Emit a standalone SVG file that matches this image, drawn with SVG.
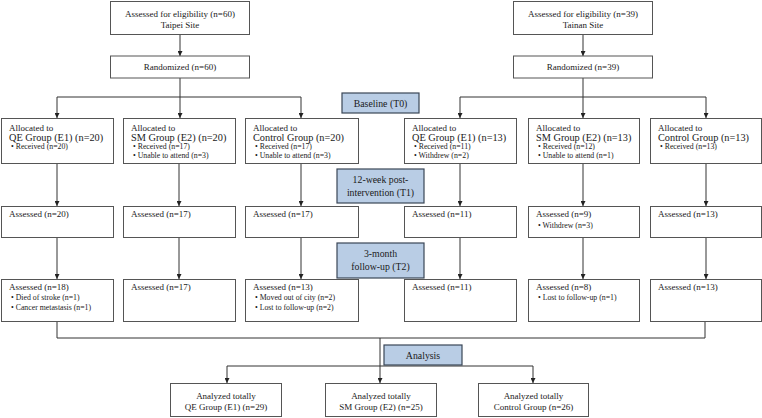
<svg xmlns="http://www.w3.org/2000/svg" width="762" height="418" viewBox="0 0 762 418" font-family="'Liberation Serif', 'Times New Roman', serif">
<defs>
<marker id="ah" viewBox="0 0 10 10" refX="10" refY="5" markerWidth="5" markerHeight="5" orient="auto" markerUnits="userSpaceOnUse">
<path d="M0,0 L10,5 L0,10 z" fill="#222"/>
</marker>
<style>
.b{fill:#fff;stroke:#555;stroke-width:1}
.l{fill:#b9cde5;stroke:#3a4656;stroke-width:1.2}
.c{fill:none;stroke:#333;stroke-width:1}
.a{fill:none;stroke:#333;stroke-width:1;marker-end:url(#ah)}
text{font-family:"Liberation Serif","Times New Roman",serif;fill:#1a1a1a;font-size:9px}
.s{font-size:7.8px}
.g{font-size:10.3px}
.m{text-anchor:middle}
.t{font-size:9.8px;text-anchor:middle}
</style>
</defs>
<g id="connectors">
<path class="a" d="M180 34 V56"/>
<path class="a" d="M180 78 V118"/>
<path class="c" d="M57 97 H301"/>
<path class="a" d="M57 97 V118"/>
<path class="a" d="M301 97 V118"/>
<path class="a" d="M583 34 V56"/>
<path class="a" d="M583 78 V118"/>
<path class="c" d="M460 97 H706"/>
<path class="a" d="M460 97 V118"/>
<path class="a" d="M706 97 V118"/>
<path class="a" d="M57 163 V206"/>
<path class="a" d="M179 163 V206"/>
<path class="a" d="M301 163 V206"/>
<path class="a" d="M460 163 V206"/>
<path class="a" d="M583 163 V206"/>
<path class="a" d="M706 163 V206"/>
<path class="a" d="M57 237 V279"/>
<path class="a" d="M179 237 V279"/>
<path class="a" d="M301 237 V279"/>
<path class="a" d="M460 237 V279"/>
<path class="a" d="M583 237 V279"/>
<path class="a" d="M706 237 V279"/>
<path class="c" d="M57 322 V338 H705 V322"/>
<path class="a" d="M380 338 V383"/>
<path class="c" d="M227 366 H533"/>
<path class="a" d="M227 366 V383"/>
<path class="a" d="M533 366 V383"/>
</g>
<g id="taipei"><rect class="b" x="110.5" y="1.5" width="139" height="33"/><text class="m" x="180" y="17">Assessed for eligibility (n=60)</text><text class="m" x="180" y="28">Taipei Site</text></g>
<g id="tainan"><rect class="b" x="513.5" y="1.5" width="139" height="33"/><text class="m" x="583" y="17">Assessed for eligibility (n=39)</text><text class="m" x="583" y="28">Tainan Site</text></g>
<g id="rand1"><rect class="b" x="110.5" y="56" width="139" height="22"/><text class="m" x="180" y="70">Randomized (n=60)</text></g>
<g id="rand2"><rect class="b" x="513.5" y="56" width="139" height="22"/><text class="m" x="583" y="70">Randomized (n=39)</text></g>
<g id="baseline"><rect class="l" x="342" y="93" width="77" height="20"/><text class="t" x="380.5" y="106.5">Baseline (T0)</text></g>
<g id="t1"><rect class="l" x="337" y="169" width="87" height="34"/><text class="t" x="380.5" y="183">12-week post-</text><text class="t" x="380.5" y="196">intervention (T1)</text></g>
<g id="t2"><rect class="l" x="337" y="243" width="87" height="35"/><text class="t" x="380.5" y="257">3-month</text><text class="t" x="380.5" y="270">follow-up (T2)</text></g>
<g id="analysis"><rect class="l" x="384" y="345" width="78" height="20"/><text class="t" x="423" y="358.5">Analysis</text></g>
<g id="a1"><rect class="b" x="1.5" y="118.5" width="112" height="45"/><text x="9" y="131">Allocated to</text><text class="g" x="9" y="141">QE Group (E1) (n=20)</text><text class="s" x="11" y="149">• Received (n=20)</text></g>
<g id="a2"><rect class="b" x="123.5" y="118.5" width="112" height="45"/><text x="131" y="131">Allocated to</text><text class="g" x="131" y="141">SM Group (E2) (n=20)</text><text class="s" x="133" y="149">• Received (n=17)</text><text class="s" x="133" y="158">• Unable to attend (n=3)</text></g>
<g id="a3"><rect class="b" x="245.5" y="118.5" width="113" height="45"/><text x="253" y="131">Allocated to</text><text class="g" x="253" y="141">Control Group (n=20)</text><text class="s" x="255" y="149">• Received (n=17)</text><text class="s" x="255" y="158">• Unable to attend (n=3)</text></g>
<g id="a4"><rect class="b" x="404.5" y="118.5" width="112" height="45"/><text x="412" y="131">Allocated to</text><text class="g" x="412" y="141">QE Group (E1) (n=13)</text><text class="s" x="414" y="149">• Received (n=11)</text><text class="s" x="414" y="158">• Withdrew (n=2)</text></g>
<g id="a5"><rect class="b" x="528.5" y="118.5" width="111" height="45"/><text x="536" y="131">Allocated to</text><text class="g" x="536" y="141">SM Group (E2) (n=13)</text><text class="s" x="538" y="149">• Received (n=12)</text><text class="s" x="538" y="158">• Unable to attend (n=1)</text></g>
<g id="a6"><rect class="b" x="650.5" y="118.5" width="111" height="45"/><text x="658" y="131">Allocated to</text><text class="g" x="658" y="141">Control Group (n=13)</text><text class="s" x="660" y="149">• Received (n=13)</text></g>
<g id="b1"><rect class="b" x="1.5" y="206.5" width="112" height="31"/><text x="9" y="217">Assessed (n=20)</text></g>
<g id="b2"><rect class="b" x="123.5" y="206.5" width="112" height="31"/><text x="131" y="217">Assessed (n=17)</text></g>
<g id="b3"><rect class="b" x="245.5" y="206.5" width="113" height="31"/><text x="253" y="217">Assessed (n=17)</text></g>
<g id="b4"><rect class="b" x="404.5" y="206.5" width="112" height="31"/><text x="412" y="217">Assessed (n=11)</text></g>
<g id="b5"><rect class="b" x="528.5" y="206.5" width="111" height="31"/><text x="536" y="217">Assessed (n=9)</text><text class="s" x="538" y="228">• Withdrew (n=3)</text></g>
<g id="b6"><rect class="b" x="650.5" y="206.5" width="111" height="31"/><text x="658" y="217">Assessed (n=13)</text></g>
<g id="c1"><rect class="b" x="1.5" y="279.5" width="112" height="42"/><text x="9" y="290">Assessed (n=18)</text><text class="s" x="11" y="300">• Died of stroke (n=1)</text><text class="s" x="11" y="310">• Cancer metastasis (n=1)</text></g>
<g id="c2"><rect class="b" x="123.5" y="279.5" width="112" height="42"/><text x="131" y="290">Assessed (n=17)</text></g>
<g id="c3"><rect class="b" x="245.5" y="279.5" width="113" height="42"/><text x="253" y="290">Assessed (n=13)</text><text class="s" x="255" y="300">• Moved out of city (n=2)</text><text class="s" x="255" y="310">• Lost to follow-up (n=2)</text></g>
<g id="c4"><rect class="b" x="404.5" y="279.5" width="112" height="42"/><text x="412" y="290">Assessed (n=11)</text></g>
<g id="c5"><rect class="b" x="528.5" y="279.5" width="111" height="42"/><text x="536" y="290">Assessed (n=8)</text><text class="s" x="538" y="300">• Lost to follow-up (n=1)</text></g>
<g id="c6"><rect class="b" x="650.5" y="279.5" width="111" height="42"/><text x="658" y="290">Assessed (n=13)</text></g>
<g id="d1"><rect class="b" x="170.5" y="383.5" width="111" height="33"/><text class="m" x="226" y="399">Analyzed totally</text><text class="m" x="226" y="410">QE Group (E1) (n=29)</text></g>
<g id="d2"><rect class="b" x="325.5" y="383.5" width="111" height="33"/><text class="m" x="381" y="399">Analyzed totally</text><text class="m" x="381" y="410">SM Group (E2) (n=25)</text></g>
<g id="d3"><rect class="b" x="478.5" y="383.5" width="110" height="33"/><text class="m" x="533.5" y="399">Analyzed totally</text><text class="m" x="533.5" y="410">Control Group (n=26)</text></g>
</svg>
